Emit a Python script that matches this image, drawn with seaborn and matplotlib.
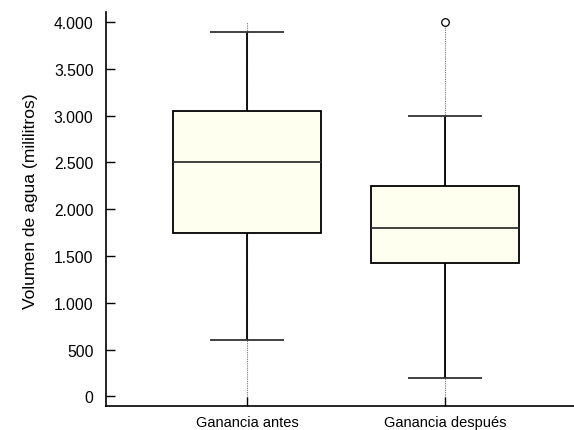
import matplotlib
matplotlib.use("Agg")
import matplotlib.pyplot as plt
import matplotlib.ticker as mticker
import numpy as np
import pandas as pd
import seaborn as sns

# Five-number summaries of each group (lower whisker, Q1, median, Q3, upper whisker)
categories = ["Ganancia antes", "Ganancia después"]
lower_whisker = [600, 200]
q1 = [1750, 1425]
median = [2500, 1800]
q3 = [3050, 2250]
upper_whisker = [3900, 3000]
# Points beyond the whiskers
outlier_category = ["Ganancia después"]
outlier_value = [4000]

y_ticks = [0, 500, 1000, 1500, 2000, 2500, 3000, 3500, 4000]
y_label = "Volumen de agua (mililitros)"

rows = []
for i, cat in enumerate(categories):
    for v in (lower_whisker[i], q1[i], median[i], q3[i], upper_whisker[i]):
        rows.append({"grupo": cat, "volumen": v})
df = pd.DataFrame(rows)
df_out = pd.DataFrame({"grupo": outlier_category, "volumen": outlier_value})

sns.set_theme(style="white")
plt.rcParams["font.family"] = ["Liberation Sans", "DejaVu Sans"]

fig = plt.figure(figsize=(5.74, 4.31), dpi=100)
ax = fig.add_axes([0.1847, 0.055, 0.8153 + 0.3, 0.915])

# dotted guide lines at each category
ax.vlines(range(len(categories)), -107, max(y_ticks), colors="#777777",
          linestyles=(0, (1, 1)), linewidth=0.8, zorder=0)

sns.boxplot(
    data=df, x="grupo", y="volumen", order=categories, ax=ax,
    whis=(0, 100), width=0.75, color="#FFFFF0", fliersize=0,
    boxprops=dict(facecolor="#FFFFF0", edgecolor="black", linewidth=1.3),
    medianprops=dict(color="#333333", linewidth=1.3),
    whiskerprops=dict(color="black", linewidth=1.3),
    capprops=dict(color="#333333", linewidth=1.3),
    zorder=2,
)
for line in ax.lines:
    line.set_solid_capstyle("butt")

sns.scatterplot(data=df_out, x="grupo", y="volumen", ax=ax, s=30,
                marker="o", facecolor="white", edgecolor="black",
                linewidth=0.9, zorder=5, legend=False)

ax.set_xlim(-0.712, 1.65 + 0.3 * 574 / 198 * 1.0)
ax.set_ylim(-107, 4110)
ax.set_yticks(y_ticks)
ax.yaxis.set_major_formatter(mticker.FuncFormatter(
    lambda v, _: f"{v:,.0f}".replace(",", ".")))

ax.set_xlabel("")
ax.set_ylabel(y_label, fontsize=12.6, color="black")
ax.yaxis.set_label_coords(-0.106, 0.522)

for side in ("top", "right"):
    ax.spines[side].set_visible(False)
for side in ("left", "bottom"):
    ax.spines[side].set_color("black")
    ax.spines[side].set_linewidth(1.2)

ax.tick_params(axis="both", direction="in", length=6.5, width=1.0,
               colors="black")
ax.tick_params(axis="y", pad=9, labelsize=11.3)
ax.tick_params(axis="x", pad=6, labelsize=10.5)
ax.tick_params(left=True, bottom=True)

fig.savefig("out.png", dpi=100)
